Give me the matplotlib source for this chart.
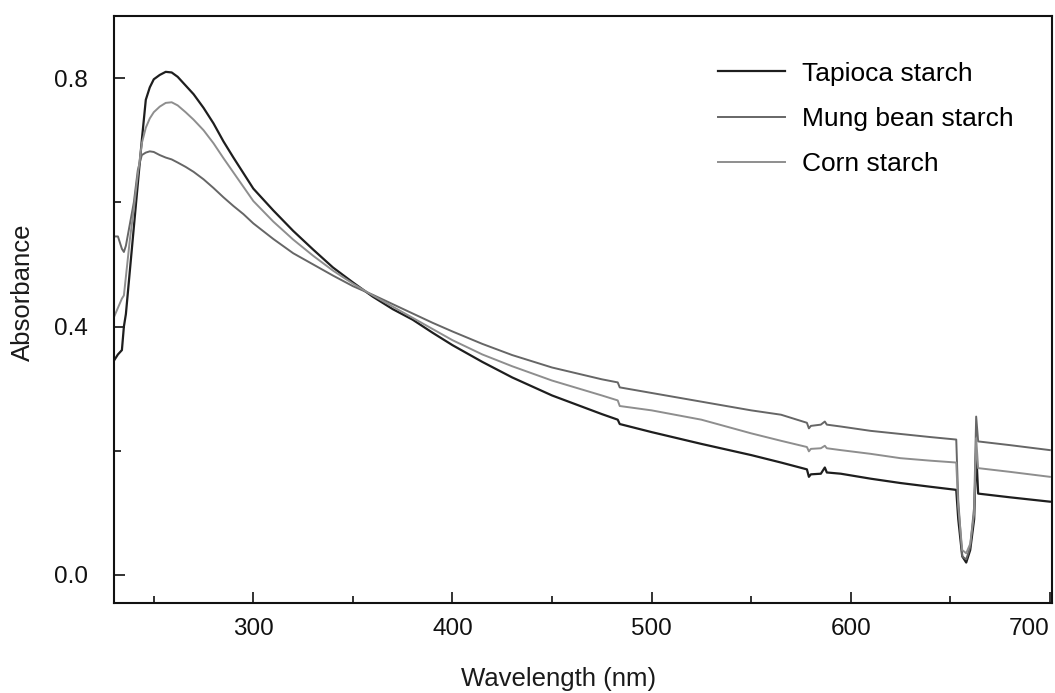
import matplotlib
matplotlib.use("Agg")
import matplotlib.pyplot as plt

plt.rcParams['font.family'] = ['Liberation Sans', 'DejaVu Sans']

# wavelength grid (nm) shared by the three spectra
wavelength = [230, 232, 234, 235, 236, 238, 240, 242, 244, 246, 248, 250, 253, 256,
              259, 262, 266, 270, 275, 280, 285, 290, 295, 300, 310, 320, 330, 340,
              350, 360, 370, 380, 390, 400, 415, 430, 450, 475, 483, 484, 500, 525,
              550, 565, 578, 579, 580, 585, 587, 588, 595, 610, 625, 640, 653, 654,
              656, 658, 660, 662, 663, 664, 680, 700]

tapioca = [0.345, 0.355, 0.362, 0.40, 0.42, 0.49, 0.56, 0.63, 0.70, 0.765, 0.785, 0.798,
           0.805, 0.81, 0.809, 0.802, 0.788, 0.774, 0.752, 0.727, 0.698, 0.672, 0.647,
           0.622, 0.587, 0.554, 0.524, 0.495, 0.471, 0.448, 0.428, 0.411, 0.39, 0.37,
           0.343, 0.318, 0.289, 0.259, 0.25, 0.243, 0.23, 0.211, 0.193, 0.181, 0.17,
           0.158, 0.162, 0.163, 0.173, 0.165, 0.163, 0.155, 0.148, 0.142, 0.137, 0.09,
           0.03, 0.02, 0.04, 0.09, 0.20, 0.131, 0.125, 0.118]

mung_bean = [0.545, 0.545, 0.525, 0.52, 0.53, 0.565, 0.60, 0.652, 0.676, 0.68, 0.682,
             0.681, 0.676, 0.672, 0.669, 0.664, 0.657, 0.649, 0.637, 0.623, 0.608, 0.594,
             0.581, 0.566, 0.541, 0.518, 0.50, 0.482, 0.465, 0.451, 0.436, 0.421, 0.406,
             0.392, 0.372, 0.354, 0.334, 0.315, 0.31, 0.302, 0.293, 0.279, 0.265, 0.258,
             0.245, 0.236, 0.24, 0.242, 0.247, 0.242, 0.239, 0.232, 0.227, 0.222, 0.218,
             0.12, 0.03, 0.025, 0.045, 0.11, 0.255, 0.215, 0.209, 0.201]

corn = [0.415, 0.43, 0.445, 0.45, 0.48, 0.54, 0.59, 0.645, 0.695, 0.72, 0.735, 0.745,
        0.754, 0.76, 0.761, 0.756, 0.745, 0.733, 0.716, 0.695, 0.671, 0.648, 0.625,
        0.602, 0.569, 0.54, 0.514, 0.49, 0.469, 0.45, 0.432, 0.414, 0.396, 0.378,
        0.355, 0.336, 0.313, 0.289, 0.281, 0.272, 0.265, 0.25, 0.228, 0.216, 0.206,
        0.199, 0.203, 0.204, 0.208, 0.204, 0.201, 0.195, 0.188, 0.184, 0.181, 0.11,
        0.04, 0.035, 0.05, 0.10, 0.22, 0.172, 0.166, 0.158]

labels = ['Tapioca starch', 'Mung bean starch', 'Corn starch']
colors = ['#1e1e1e', '#666666', '#8e8e8e']
widths = [1.6, 1.4, 1.4]

fig = plt.figure(figsize=(10.55, 6.93), dpi=100)
ax = fig.add_axes([0.108, 0.130, 0.889, 0.847])

for y, lab, c, w in zip([tapioca, mung_bean, corn], labels, colors, widths):
    ax.plot(wavelength, y, color=c, lw=w, label=lab)

ax.set_xlim(230, 701)
ax.set_ylim(-0.045, 0.9)
ax.set_xticks([300, 400, 500, 600, 700])
ax.set_xticks([250, 350, 450, 550, 650], minor=True)
ax.set_yticks([0.0, 0.4, 0.8])
ax.set_yticks([0.2, 0.6], minor=True)
ax.set_yticklabels(['0.0', '0.4', '0.8'])

ax.tick_params(which='both', direction='in', top=False, right=False, width=1.2, colors='#111111')
ax.tick_params(which='major', length=8, labelsize=17.5)
ax.tick_params(which='minor', length=5)
ax.tick_params(axis='x', pad=11)
ax.tick_params(axis='y', pad=19)
for s in ax.spines.values():
    s.set_linewidth(1.5)
    s.set_color('#111111')

fig.canvas.draw()
ax.get_xticklabels()[-1].set_horizontalalignment('right')

ax.set_xlabel('Wavelength (nm)', fontsize=18.5, color='#1a1a1a')
ax.set_ylabel('Absorbance', fontsize=18.5, color='#1a1a1a')
ax.xaxis.set_label_coords(0.474, -0.11)
ax.yaxis.set_label_coords(-0.084, 0.529)

ax.legend(loc='upper left', bbox_to_anchor=(0.644, 0.922), frameon=False, fontsize=19,
          handlelength=2.55, handletextpad=0.62, labelspacing=0.8, borderpad=0,
          borderaxespad=0)

fig.savefig('out.png', dpi=100)
